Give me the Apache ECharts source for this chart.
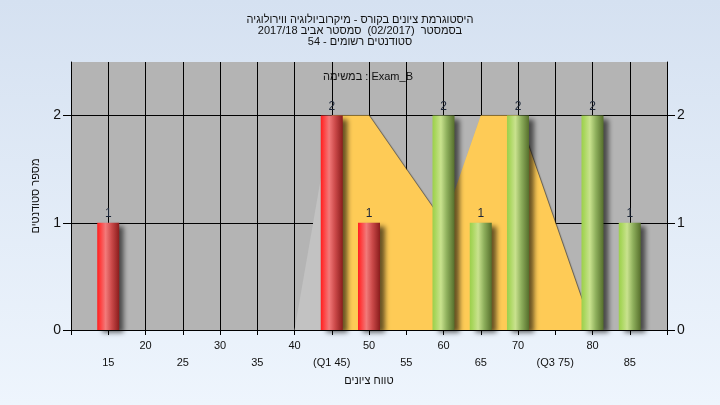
<!DOCTYPE html>
<html>
<head>
<meta charset="utf-8">
<script src="https://cdn.jsdelivr.net/npm/echarts@6/dist/echarts.min.js"></script>
<style>
html,body{margin:0;padding:0;}
#chart{width:720px;height:405px;}
</style>
</head>
<body>
<div id="chart"></div>
<script>
// ---- data ----
const titleLines = [
  'היסטוגרמת ציונים בקורס - מיקרוביולוגיה ווירולוגיה',
  'בסמסטר  (02/2017)  סמסטר אביב 2017/18',
  'סטודנטים רשומים - 54'
];
const subTitle = 'במשימה : Exam_B';
const xAxisName = 'טווח ציונים';
const yAxisName = 'מספר סטודנטים';
const binCenters = [15, 45, 50, 60, 65, 70, 80, 85];
const counts = [1, 2, 1, 2, 1, 2, 2, 1];
const passMark = 55;
const xTickValues = [15, 20, 25, 30, 35, 40, 45, 50, 55, 60, 65, 70, 75, 80, 85];
const xTickLabels = ['15', '20', '25', '30', '35', '40', '(Q1 45)', '50', '55', '60', '65', '70', '(Q3 75)', '80', '85'];
const yTickValues = [0, 1, 2];
const curveX = [40, 45, 50, 55, 60, 65, 70, 75, 80];
const curveY = [0, 2, 2, 1.5, 1, 2, 2, 1, 0];
const q1 = 45;

// ---- styles ----
const FONT = 'Liberation Sans, Arial, sans-serif';
function grad(stops) {
  return { type: 'linear', x: 0, y: 0, x2: 1, y2: 0,
    colorStops: stops.map(s => ({ offset: s[0], color: s[1] })) };
}
const redGrad = grad([[0, '#ff1e1e'], [0.12, '#ff3a3a'], [0.38, '#f27a7a'], [0.65, '#cc4a4a'], [1, '#8a1c1c']]);
const greenGrad = grad([[0, '#9ccf4c'], [0.12, '#a8d65c'], [0.38, '#c9e28e'], [0.65, '#8eaf5c'], [1, '#566f2c']]);

const barData = binCenters.map((x, i) => ({
  value: [x, counts[i]],
  itemStyle: { color: x < passMark ? redGrad : greenGrad }
}));

const qIdx = curveX.indexOf(q1);
const grayArea = curveX.slice(0, qIdx + 1).map((x, i) => [x, curveY[i]]);
const yellowArea = curveX.slice(qIdx).map((x, i) => [x, curveY[qIdx + i]]);

const rle = s => '\u202B' + s + '\u202C';

const chart = echarts.init(document.getElementById('chart'), null, { renderer: 'canvas' });
chart.setOption({
  animation: false,
  backgroundColor: { type: 'linear', x: 0, y: 0, x2: 0, y2: 1,
    colorStops: [{ offset: 0, color: '#d5e1f1' }, { offset: 1, color: '#eef5fd' }] },
  textStyle: { fontFamily: FONT },
  title: [
    {
      text: titleLines.map(rle).join('\n'),
      left: 355, top: 9, textAlign: 'center',
      textStyle: { fontSize: 11, fontWeight: 'normal', color: '#111', lineHeight: 11.3, fontFamily: FONT }
    },
    {
      text: subTitle,
      left: 363, top: 66, textAlign: 'center',
      textStyle: { fontSize: 11, fontWeight: 'normal', color: '#111', fontFamily: FONT }
    }
  ],
  grid: {
    left: 71, right: 53, top: 62, bottom: 75,
    show: true, backgroundColor: '#b4b4b4', borderWidth: 0
  },
  xAxis: {
    type: 'value', min: 10, max: 90, interval: 5,
    name: xAxisName, nameLocation: 'middle', nameGap: 45,
    nameTextStyle: { fontSize: 11, color: '#111', fontFamily: FONT },
    axisLine: { show: true, lineStyle: { color: '#000', width: 1 } },
    axisTick: { show: true, length: 5, lineStyle: { color: '#000' } },
    splitLine: { show: true, lineStyle: { color: '#000', width: 1 } },
    axisLabel: {
      margin: 7, fontSize: 11, color: '#111', lineHeight: 17,
      formatter: function (v) {
        const i = xTickValues.indexOf(v);
        if (i < 0) return '';
        return (v % 10 === 0) ? xTickLabels[i] : '\n' + xTickLabels[i];
      }
    }
  },
  yAxis: [
    {
      type: 'value', min: 0, max: 2.5, interval: 1, position: 'left',
      name: yAxisName, nameLocation: 'middle', nameGap: 30, nameRotate: 90,
      nameTextStyle: { fontSize: 11, color: '#111', fontFamily: FONT },
      axisLine: { show: true, lineStyle: { color: '#000' } },
      axisTick: { show: true, length: 8, customValues: yTickValues, lineStyle: { color: '#000' } },
      axisLabel: { margin: 10, fontSize: 14, color: '#111', customValues: yTickValues,
        formatter: v => (yTickValues.indexOf(v) >= 0 ? String(v) : '') },
      splitLine: { show: true, lineStyle: { color: ['#000', '#000', '#000', 'rgba(0,0,0,0)'], width: 1 } }
    },
    {
      type: 'value', min: 0, max: 2.5, interval: 1, position: 'right',
      axisLine: { show: true, lineStyle: { color: '#000' } },
      axisTick: { show: true, length: 8, customValues: yTickValues, lineStyle: { color: '#000' } },
      axisLabel: { margin: 10, fontSize: 14, color: '#111', customValues: yTickValues,
        formatter: v => (yTickValues.indexOf(v) >= 0 ? String(v) : '') },
      splitLine: { show: false }
    }
  ],
  series: [
    {
      type: 'line', data: grayArea, showSymbol: false, z: 1,
      lineStyle: { width: 0, opacity: 0 },
      areaStyle: { color: '#c2c2c2', opacity: 1 }
    },
    {
      type: 'line', data: yellowArea, showSymbol: false, z: 1,
      lineStyle: { width: 0, opacity: 0 },
      areaStyle: { color: '#fecb56', opacity: 1,
        shadowColor: 'rgba(60,50,30,0.7)', shadowBlur: 1, shadowOffsetX: 1, shadowOffsetY: 0 }
    },
    {
      type: 'bar', data: barData, barWidth: 22, z: 3,
      itemStyle: { shadowColor: 'rgba(0,0,0,0.6)', shadowBlur: 5, shadowOffsetX: 5, shadowOffsetY: 3 },
      label: { show: true, position: 'top', distance: 3, fontSize: 12, color: '#1c2638',
        formatter: p => String(p.value[1]) }
    }
  ]
});
</script>
</body>
</html>
